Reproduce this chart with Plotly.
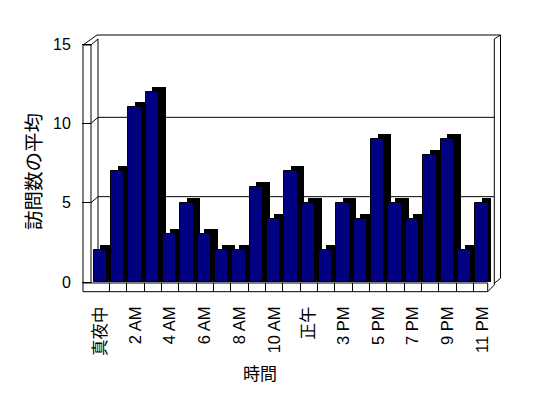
import plotly.graph_objects as go

# ---- data ----
categories = ["真夜中", "1 AM", "2 AM", "3 AM", "4 AM", "5 AM", "6 AM", "7 AM", "8 AM", "9 AM",
              "10 AM", "11 AM", "正午", "2 PM", "3 PM", "4 PM", "5 PM", "6 PM", "7 PM", "8 PM",
              "9 PM", "10 PM", "11 PM"]
values = [2, 7, 11, 12, 3, 5, 3, 2, 2, 6, 4, 7, 5, 2, 5, 4, 9, 5, 4, 8, 9, 2, 5]
y_ticks = [0, 5, 10, 15]
y_title = "訪問数の平均"
x_title = "時間"

# ---- geometry (page pixels) ----
W, H = 548, 398
BODY = 8                  # default page body margin
X0, X1 = 92, 491          # plot area left/right
Y0, Y15 = 282, 44         # pixel of value 0 / value 15
YMAX = 15
PXU = (Y0 - Y15) / YMAX   # pixels per unit
DEPTH_X, DEPTH_Y = 6.7, 6  # 3-D depth offset (px)

def px(x):
    return (x - X0) / (X1 - X0)

def py(y):
    return (Y0 - y) / (Y0 - Y15)

idx = list(range(len(categories)))
unit_px = (X1 - X0) / len(categories)
shadow_dx = DEPTH_X / unit_px
shadow_dy = 5 / PXU

fig = go.Figure()
# black depth (side/top) of each column
fig.add_trace(go.Bar(x=idx, y=[v + shadow_dy for v in values], width=0.77, offset=-0.41 + shadow_dx,
                     marker=dict(color="black", line=dict(width=0)), hoverinfo="skip", showlegend=False))
# blue front face
fig.add_trace(go.Bar(x=idx, y=values, width=0.77, offset=-0.41,
                     marker=dict(color="#000080", line=dict(color="black", width=1)), showlegend=False))

font_fam = "Liberation Sans, Arial, Noto Sans CJK JP"
shapes = []
line = dict(color="black", width=1)

def seg(x0, y0, x1, y1, layer="above"):
    shapes.append(dict(type="line", xref="paper", yref="paper", x0=px(x0), y0=py(y0),
                       x1=px(x1), y1=py(y1), line=line, layer=layer))

# back wall gridlines (on a shifted axis = back plane)
for v in y_ticks[1:]:
    shapes.append(dict(type="line", xref="paper", yref="y2", x0=px(X0 + DEPTH_X - 0.7), x1=px(494.3),
                       y0=v, y1=v, line=line, layer="below"))
    if v < YMAX:
        yf = Y0 - v * PXU
        seg(91, yf, X0 + DEPTH_X - 0.7, yf - DEPTH_Y)

# left wall
seg(83, Y15 + 1, 83, 291.7)
seg(91, Y15 + 1, 91, 283)
seg(83, Y15 + 1, 91, Y15 + 1)
seg(83, Y15 + 1, 97, 35)
seg(91, Y15 + 1, 98, 39)
seg(98, 39, 98, 277, layer="below")
# back wall top & right
seg(97, 35, 500.5, 35)
seg(494.3, 39, 494.3, 285)
seg(500.5, 35, 500.5, 278.3)
seg(494.3, 39, 500.5, 35)
# floor
seg(83, 283, 487.7, 283)
seg(83, 291.7, 487.7, 291.7)
seg(487.7, 283, 487.7, 291.7)
seg(487.7, 291.7, 494.3, 285)
seg(494.3, 283.3, 500.5, 278.3)

fig.update_layout(
    width=W - BODY, height=H - BODY, autosize=False,
    margin=dict(l=X0 - BODY, r=W - X1, t=Y15 - BODY, b=H - Y0, pad=0),
    paper_bgcolor="white", plot_bgcolor="rgba(0,0,0,0)",
    barmode="overlay", bargap=0,
    font=dict(family=font_fam, size=15, color="black"),
    xaxis=dict(range=[-0.5, len(categories) - 0.5], tickvals=idx[::2], ticktext=categories[::2],
               tickangle=-90, ticks="outside", ticklen=17, tickcolor="rgba(0,0,0,0)",
               showgrid=False, zeroline=False, showline=False, automargin=False,
               tickfont=dict(family=font_fam, size=16.5, color="black")),
    xaxis3=dict(overlaying="x", anchor="y", side="bottom", range=[-0.5, len(categories) - 0.5],
                tickvals=[i + 0.5 for i in idx[:-1]], ticks="outside", ticklen=9, tickcolor="black",
                tickwidth=1, showticklabels=False, showgrid=False, zeroline=False, showline=False,
                automargin=False),
    yaxis=dict(range=[0, YMAX], tickvals=y_ticks, ticks="outside", ticklen=9, tickcolor="black",
               tickwidth=1, showgrid=False, zeroline=False, showline=False, automargin=False,
               ticklabelstandoff=8, tickfont=dict(family=font_fam, size=16, color="black")),
    yaxis2=dict(overlaying="y", range=[-DEPTH_Y / PXU, YMAX - DEPTH_Y / PXU], showgrid=False,
                zeroline=False, showline=False, showticklabels=False, ticks="", automargin=False),
    shapes=shapes,
    annotations=[
        dict(text=y_title, xref="paper", yref="paper", x=px(32), y=py(172), showarrow=False,
             textangle=-90, font=dict(family="Noto Sans CJK JP", size=19.5, color="black"),
             xanchor="center", yanchor="middle"),
        dict(text=x_title, xref="paper", yref="paper", x=px(260), y=py(372), showarrow=False,
             font=dict(family="Noto Sans CJK JP", size=17, color="black"),
             xanchor="center", yanchor="middle"),
    ],
)
# invisible traces so that the extra axes are instantiated
fig.add_trace(go.Scatter(x=[0], y=[0], yaxis="y2", mode="markers", marker=dict(opacity=0),
                         hoverinfo="skip", showlegend=False))
fig.add_trace(go.Scatter(x=[0], y=[0], xaxis="x3", mode="markers", marker=dict(opacity=0),
                         hoverinfo="skip", showlegend=False))

fig.write_html("out.html")
